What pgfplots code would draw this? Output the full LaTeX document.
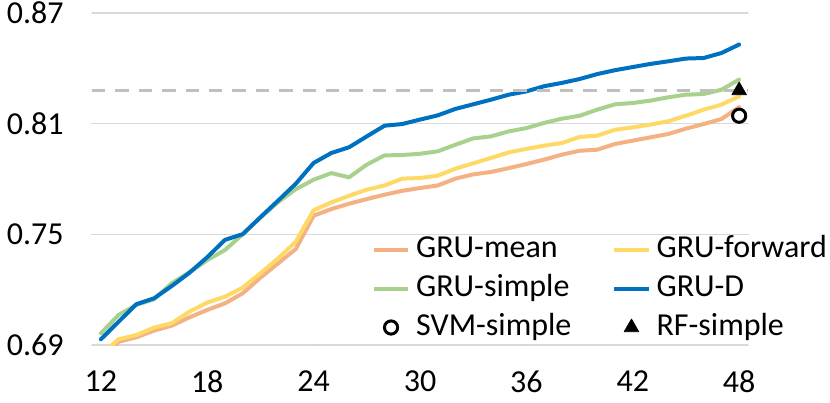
\documentclass[border=0pt]{standalone}
\usepackage{pgfplots}
\pgfplotsset{compat=1.18}
\usepackage{pgfplotstable}
\usepackage{fontspec}
\setmainfont{Carlito}
\definecolor{cmean}{HTML}{F4B183}
\definecolor{cfwd}{HTML}{FFD966}
\definecolor{csimple}{HTML}{A9D18E}
\definecolor{cgrud}{HTML}{0070C0}
\definecolor{gridgray}{HTML}{D9D9D9}
\definecolor{dashgray}{HTML}{BFBFBF}

\pgfplotstableread{
x mean fwd simple grud
12 0.6830 0.6846 0.6963 0.6931
13 0.6918 0.6931 0.7063 0.7026
14 0.6942 0.6954 0.7117 0.7121
15 0.6978 0.6994 0.7148 0.7153
16 0.7005 0.7018 0.7235 0.7220
17 0.7050 0.7081 0.7295 0.7292
18 0.7090 0.7130 0.7360 0.7376
19 0.7126 0.7162 0.7415 0.7470
20 0.7180 0.7211 0.7500 0.7501
21 0.7265 0.7289 0.7590 0.7593
22 0.7343 0.7370 0.7675 0.7683
23 0.7421 0.7461 0.7745 0.7775
24 0.7601 0.7631 0.7796 0.7887
25 0.7637 0.7673 0.7832 0.7941
26 0.7666 0.7709 0.7809 0.7972
27 0.7691 0.7742 0.7878 0.8031
28 0.7715 0.7765 0.7928 0.8089
29 0.7736 0.7802 0.7930 0.8098
30 0.7751 0.7805 0.7937 0.8122
31 0.7765 0.7818 0.7950 0.8145
32 0.7802 0.7856 0.7986 0.8180
33 0.7825 0.7885 0.8020 0.8205
34 0.7838 0.7914 0.8031 0.8230
35 0.7859 0.7944 0.8058 0.8257
36 0.7881 0.7963 0.8076 0.8275
37 0.7905 0.7981 0.8104 0.8303
38 0.7932 0.7995 0.8127 0.8321
39 0.7953 0.8028 0.8143 0.8342
40 0.7959 0.8035 0.8176 0.8369
41 0.7990 0.8067 0.8205 0.8390
42 0.8008 0.8080 0.8212 0.8407
43 0.8026 0.8095 0.8225 0.8424
44 0.8044 0.8113 0.8243 0.8438
45 0.8073 0.8143 0.8257 0.8453
46 0.8098 0.8176 0.8261 0.8456
47 0.8125 0.8203 0.8284 0.8483
48 0.8190 0.8248 0.8339 0.8529
}\datatable

\begin{document}
\begin{tikzpicture}[font=\fontsize{16}{19}\selectfont]
\begin{axis}[name=ax, scale only axis, width=328pt, height=166pt,
  xmin=11.5, xmax=48.5, ymin=0.69, ymax=0.87,
  xtick={12,18,24,30,36,42,48}, ytick={0.69,0.75,0.81,0.87},
  axis line style={draw=none}, major tick length=0pt,
  ymajorgrids, grid style={color=gridgray, line width=0.6pt},
  /pgf/number format/assume math mode=true,
  tick label style={font=\fontsize{16}{19}\selectfont},
  yticklabel style={xshift=-10.7pt, /pgf/number format/fixed, /pgf/number format/fixed zerofill, /pgf/number format/precision=2},
  xticklabel style={yshift=-9.5pt},
  legend cell align=left,
  legend columns=2,
  legend style={draw=none, fill=none, at={(0.4268,0.3313)}, anchor=north west,
    inner sep=0pt, outer sep=0pt, row sep=5pt,
    font=\fontsize{16}{19}\selectfont,
    nodes={inner xsep=2pt, inner ysep=0pt, text height=11pt, text depth=3.5pt},
    /tikz/every odd column/.append style={column sep=1pt},
    /tikz/every even column/.append style={column sep=18.5pt}},
  line join=round, line cap=round,
]
\addplot[cmean, line width=2pt] table[x=x,y=mean]{\datatable};
\addlegendentry{GRU-mean}
\addplot[cfwd, line width=2pt] table[x=x,y=fwd]{\datatable};
\addlegendentry{GRU-forward}
\addplot[csimple, line width=2pt] table[x=x,y=simple]{\datatable};
\addlegendentry{GRU-simple}
\addplot[cgrud, line width=2pt] table[x=x,y=grud]{\datatable};
\addlegendentry{GRU-D}
\addplot[only marks, mark=o, mark size=3.3pt, line width=1.5pt, black] coordinates {(48,0.8143)};
\addlegendentry{SVM-simple}
\addplot[only marks, mark=triangle*, mark size=4.2pt, black] coordinates {(48,0.828)};
\addlegendentry{RF-simple}
\addplot[forget plot, dashgray, dash pattern=on 6.7pt off 5pt, line width=1.8pt, line cap=butt] coordinates {(11.5,0.828) (48.5,0.828)};
\end{axis}
\pgfresetboundingbox
\path ([xshift=-46pt,yshift=-28.5pt]ax.south west) rectangle ([xshift=41pt,yshift=6.5pt]ax.north east);
\end{tikzpicture}
\end{document}
